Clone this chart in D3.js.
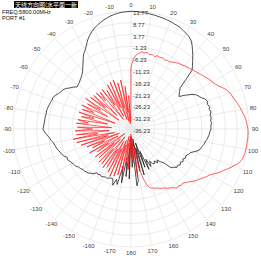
<!DOCTYPE html>
<html>
<head>
<meta charset="utf-8">
<script src="https://cdn.jsdelivr.net/npm/d3@7"></script>
<style>
  html, body { margin: 0; padding: 0; background: #fff; }
  svg { display: block; font-family: "Liberation Sans", Arial, sans-serif; }
</style>
</head>
<body>
<svg id="chart" width="261" height="261"></svg>
<script>
// ── Datos ───────────────────────────────────────────────────────────
const TITLE = "天线方向图(水平面一新";
const FREQ  = "FREQ:5800.00MHz";
const PORT  = "PORT #1";

const RING_LABELS = ["13.77", "8.77", "3.77", "-1.23", "-6.23", "-11.23",
                     "-16.23", "-21.23", "-26.23", "-31.23", "-36.23"];
const ANGLE_TICKS = [0, 10, 20, 30, 40, 50, 60, 70, 80, 90, 100, 110, 120, 130, 140, 150, 160, 170, 180,
                     -170, -160, -150, -140, -130, -120, -110, -100, -90, -80, -70, -60, -50, -40, -30, -20, -10];

// azimuth step 2°, from 0° to 358°
const STEP = 2;

// black trace (dB)
const BLACK = [
  13.6, 13.6, 13.5, 13.4, 13.3, 13.1, 13.0, 12.8, 12.7, 12.5,      // 0-18
  12.3, 12.0, 11.8, 11.5, 11.0, 10.5, 10.0, 9.2, 7.8, 6.1,         // 20-38
  4.5, 2.8, 1.3, -0.2, -5.0, -9.0, -10.0, -11.0, -11.6, -9.2,      // 40-58
  -7.0, -5.2, -4.4, -3.6, -2.3, -1.8, -2.2, -1.7, -2.0, -1.6,      // 60-78
  -2.2, -1.9, -2.3, -2.0, -2.4, -2.3, -2.8, -3.0, -3.4, -3.8,      // 80-98
  -4.4, -4.6, -5.3, -5.6, -6.4, -8.0, -9.2, -9.6, -10.4, -10.0,    // 100-118
  -10.8, -10.2, -11.0, -10.4, -11.2, -10.9, -12.0, -12.6, -16.4, -17.5, // 120-138
  -19.1, -18.0, -19.5, -18.5, -19.0, -20.5, -18.2, -22.0, -17.5, -26.0, // 140-158
  -19.0, -30.0, -16.0, -28.0, -18.0, -32.0, -14.0, -12.0, -30.0, -20.0, // 160-178
  -33.0, -15.0, -28.0, -16.0, -24.0, -13.0, -20.0, -12.0, -14.0, -11.2, // 180-198
  -13.8, -13.8, -13.5, -13.0, -13.2, -12.8, -12.5, -12.9, -12.4, -12.7, // 200-218
  -11.5, -11.0, -10.3, -10.0, -9.6, -9.6, -9.0, -8.8, -8.0, -7.8,  // 220-238
  -7.4, -7.0, -6.4, -6.6, -5.6, -5.0, -4.6, -4.0, -3.6, -3.2,      // 240-258
  -2.8, -2.0, -1.4, -0.5, 0.4, 1.1, 0.8, 0.6, 0.5, 0.5,            // 260-278
  0.3, 0.4, 0.2, 0.0, -0.3, -0.6, -0.5, -1.2, -2.0, -2.6,          // 280-298
  -3.0, -3.8, -5.1, -6.0, -7.3, -7.0, -6.8, -6.3, -5.8, -5.2,      // 300-318
  -4.3, -3.0, -1.7, 0.0, 1.5, 2.5, 4.0, 5.7, 7.0, 8.2,             // 320-338
  9.2, 10.0, 10.7, 11.4, 12.0, 12.5, 12.9, 13.2, 13.4, 13.5        // 340-358
];

// red trace (dB)
const RED = [
  -9.9, -6.5, -4.8, -4.0, -3.2, -3.6, -3.0, -3.8, -3.4, -4.0,      // 0-18
  -3.2, -3.6, -3.2, -3.7, -3.3, -3.4, -2.8, -2.3, -1.9, -1.6,      // 20-38
  -1.2, -0.9, -0.5, -0.1, 0.3, 0.8, 1.3, 1.9, 2.5, 3.1,            // 40-58
  3.6, 4.3, 5.2, 6.5, 7.7, 8.3, 8.9, 9.4, 10.0, 10.6,              // 60-78
  11.2, 11.7, 12.3, 12.7, 13.0, 13.3, 13.4, 13.4, 13.3, 13.3,      // 80-98
  13.2, 13.1, 12.8, 12.4, 11.4, 9.8, 8.4, 6.8, 5.7, 4.0,           // 100-118
  2.5, 1.7, 0.8, -0.2, -0.9, -1.8, -2.8, -3.6, -4.5, -4.2,         // 120-138
  -4.8, -4.5, -5.4, -6.2, -6.6, -7.4, -7.8, -8.2, -8.9, -9.2,      // 140-158
  -9.6, -10.0, -11.5, -14.2, -18.4, -28.0, -16.5, -31.0, -22.0, -33.0, // 160-178
  -24.0, -34.0, -19.0, -32.0, -22.0, -30.0, -17.0, -33.0, -16.0, -29.0, // 180-198
  -15.0, -31.0, -14.2, -27.0, -15.5, -30.0, -17.0, -26.0, -16.0, -32.0, // 200-218
  -17.0, -25.0, -16.7, -30.0, -18.0, -27.0, -17.0, -33.0, -19.0, -25.0, // 220-238
  -16.0, -30.0, -18.0, -24.0, -16.1, -31.0, -14.0, -26.0, -12.5, -29.0, // 240-258
  -11.4, -22.0, -13.0, -27.0, -12.5, -20.0, -13.5, -28.0, -13.0, -18.0, // 260-278
  -13.4, -26.0, -14.5, -20.0, -13.0, -29.0, -14.0, -19.0, -13.0, -25.0, // 280-298
  -15.0, -21.0, -13.0, -30.0, -14.5, -22.0, -15.0, -28.0, -15.0, -20.0, // 300-318
  -16.0, -31.0, -15.5, -24.0, -17.0, -30.0, -15.0, -26.0, -14.5, -32.0, // 320-338
  -14.2, -27.0, -16.0, -33.0, -15.0, -29.0, -18.0, -34.0, -22.0, -33.0  // 340-358
];

// ── Geometría ───────────────────────────────────────────────────────
const svg = d3.select("#chart");
const cx = 131, cy = 129;
const R  = 118;
const DB_MIN = -36.23, DB_MAX = 13.77;

const rScale = d3.scaleLinear().domain([DB_MIN, DB_MAX]).range([0, R]).clamp(true);
const toRad = a => a * Math.PI / 180;

const g = svg.append("g").attr("transform", `translate(${cx},${cy})`);

// ── Rejilla ─────────────────────────────────────────────────────────
const ringVals = RING_LABELS.map(Number).filter(v => v > DB_MIN);
g.selectAll("circle.ring")
  .data(ringVals)
  .join("circle")
  .attr("class", "ring")
  .attr("r", d => rScale(d))
  .attr("fill", "none")
  .attr("stroke", "#e6e6e6")
  .attr("stroke-width", 0.8);

g.selectAll("line.spoke")
  .data(d3.range(0, 360, 10))
  .join("line")
  .attr("class", "spoke")
  .attr("x1", 0).attr("y1", 0)
  .attr("x2", d => R * Math.sin(toRad(d)))
  .attr("y2", d => -R * Math.cos(toRad(d)))
  .attr("stroke", "#e6e6e6")
  .attr("stroke-width", 0.8);

// ── Etiquetas de ángulo ─────────────────────────────────────────────
const LR = 124;
g.selectAll("text.ang")
  .data(ANGLE_TICKS)
  .join("text")
  .attr("class", "ang")
  .attr("x", d => LR * Math.sin(toRad(d)))
  .attr("y", d => -LR * Math.cos(toRad(d)))
  .attr("dy", "0.35em")
  .attr("text-anchor", "middle")
  .attr("font-size", 6)
  .attr("fill", "#444")
  .text(d => d);

// ── Trazas ──────────────────────────────────────────────────────────
const radial = d3.lineRadial()
  .angle((d, i) => toRad(i * STEP))
  .radius(d => rScale(d))
  .curve(d3.curveLinearClosed);

g.append("path")
  .datum(BLACK)
  .attr("d", radial)
  .attr("fill", "none")
  .attr("stroke", "#222")
  .attr("stroke-width", 0.8);

g.append("path")
  .datum(RED)
  .attr("d", radial)
  .attr("fill", "none")
  .attr("stroke", "#ff1a1a")
  .attr("stroke-width", 0.7);

// ── Etiquetas radiales ──────────────────────────────────────────────
g.selectAll("text.rad")
  .data(RING_LABELS)
  .join("text")
  .attr("class", "rad")
  .attr("x", 2)
  .attr("y", d => -rScale(+d) + 4)
  .attr("font-size", 6)
  .attr("fill", "#333")
  .text(d => d);

// ── Cabecera ────────────────────────────────────────────────────────
svg.append("rect")
  .attr("x", 14).attr("y", 1)
  .attr("width", 64).attr("height", 7)
  .attr("fill", "#000");
svg.append("text")
  .attr("x", 46).attr("y", 7)
  .attr("text-anchor", "middle")
  .attr("font-size", 6)
  .attr("font-family", "Noto Sans CJK SC")
  .attr("fill", "#fff")
  .text(TITLE);
svg.append("text")
  .attr("x", 2).attr("y", 14)
  .attr("font-size", 5.6)
  .attr("fill", "#111")
  .text(FREQ);
svg.append("text")
  .attr("x", 2).attr("y", 19.5)
  .attr("font-size", 5.6)
  .attr("fill", "#111")
  .text(PORT);
</script>
</body>
</html>
